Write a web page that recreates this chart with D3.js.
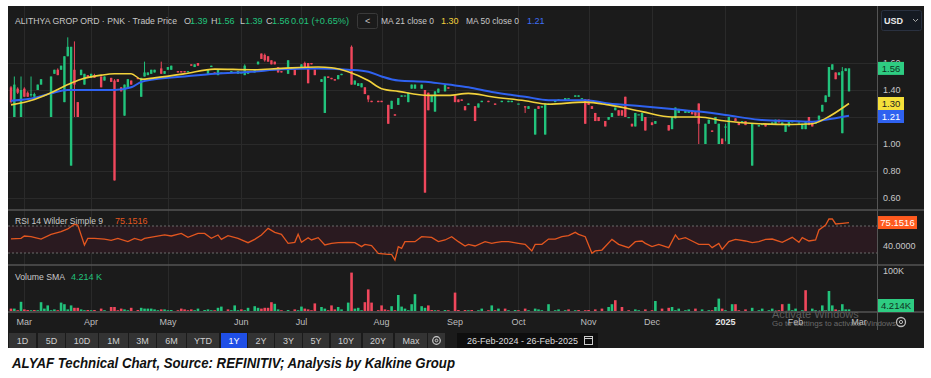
<!DOCTYPE html>
<html>
<head>
<meta charset="utf-8">
<script src="https://cdn.jsdelivr.net/npm/d3@7"></script>
<style>
body { margin: 0; background: #fff; }
svg { display: block; }
text { font-family: "Liberation Sans", Arial, sans-serif; }
</style>
</head>
<body>
<svg id="chart" width="931" height="378"></svg>
<script>
// ---- data ----
// candles: [trading day, open, high, low, close]
var candles = [
 [0,1.42,1.43,1.30,1.31],[1,1.20,1.50,1.20,1.44],[2,1.41,1.42,1.37,1.38],[3,1.20,1.50,1.20,1.40],
 [4,1.41,1.42,1.35,1.35],[5,1.38,1.39,1.35,1.35],[6,1.36,1.50,1.35,1.37],[7,1.35,1.38,1.35,1.37],
 [8,1.40,1.44,1.40,1.44],[9,1.44,1.48,1.44,1.48],[12,1.20,1.50,1.20,1.50],[13,1.52,1.55,1.52,1.55],
 [14,1.55,1.56,1.51,1.51],[15,1.55,1.58,1.55,1.58],[16,1.31,1.65,1.31,1.65],[17,1.65,1.79,1.65,1.72],
 [18,0.84,1.72,0.84,1.72],[19,1.55,1.76,1.20,1.44],[20,1.31,1.31,1.20,1.20],[21,1.51,1.55,1.51,1.55],
 [22,1.44,1.52,1.44,1.52],[23,1.51,1.51,1.49,1.49],[24,1.49,1.52,1.49,1.52],[25,1.51,1.52,1.49,1.49],
 [27,1.50,1.50,1.42,1.42],[28,1.47,1.50,1.47,1.50],[30,1.49,1.49,1.46,1.46],[31,1.47,1.48,0.73,0.73],
 [32,1.48,1.48,1.46,1.46],[33,1.42,1.42,1.39,1.39],[34,1.21,1.44,1.21,1.44],[35,1.41,1.48,1.41,1.48],
 [36,1.47,1.47,1.44,1.44],[38,1.49,1.49,1.48,1.48],[39,1.35,1.49,1.35,1.49],[40,1.50,1.61,1.50,1.53],
 [41,1.51,1.53,1.51,1.53],[42,1.52,1.55,1.52,1.55],[43,1.53,1.55,1.53,1.55],[45,1.56,1.61,1.52,1.52],
 [46,1.52,1.54,1.52,1.54],[47,1.55,1.57,1.55,1.57],[48,1.55,1.58,1.55,1.58],[50,1.54,1.54,1.53,1.53],
 [51,1.54,1.54,1.53,1.53],[52,1.54,1.54,1.53,1.53],[53,1.54,1.54,1.54,1.54],[54,1.59,1.59,1.58,1.58],
 [55,1.57,1.59,1.57,1.59],[56,1.60,1.60,1.58,1.58],[59,1.52,1.55,1.52,1.55],[60,1.57,1.58,1.57,1.58],
 [61,1.53,1.53,1.52,1.52],[62,1.51,1.55,1.51,1.55],[63,1.53,1.53,1.53,1.53],[65,1.53,1.53,1.52,1.52],
 [66,1.53,1.54,1.53,1.54],[68,1.52,1.54,1.52,1.54],[69,1.53,1.53,1.53,1.53],[70,1.51,1.59,1.51,1.58],
 [71,1.52,1.53,1.52,1.53],[73,1.53,1.55,1.53,1.55],[74,1.59,1.61,1.59,1.61],[75,1.67,1.67,1.63,1.63],
 [76,1.66,1.67,1.61,1.62],[77,1.65,1.65,1.61,1.61],[78,1.62,1.62,1.59,1.59],[79,1.61,1.61,1.59,1.59],
 [80,1.57,1.57,1.53,1.53],[81,1.54,1.54,1.53,1.53],[83,1.52,1.62,1.52,1.62],[85,1.55,1.55,1.51,1.51],
 [87,1.56,1.59,1.56,1.59],[88,1.60,1.61,1.57,1.57],[89,1.60,1.60,1.45,1.45],[90,1.60,1.60,1.59,1.59],
 [91,1.55,1.55,1.51,1.51],[93,1.46,1.48,1.46,1.48],[94,1.23,1.50,1.23,1.50],[95,1.50,1.50,1.49,1.49],
 [96,1.49,1.49,1.48,1.48],[97,1.48,1.48,1.47,1.47],[98,1.48,1.51,1.48,1.51],[99,1.51,1.52,1.51,1.52],
 [102,1.72,1.73,1.44,1.44],[103,1.44,1.47,1.44,1.47],[104,1.43,1.45,1.43,1.45],[105,1.42,1.45,1.42,1.45],
 [106,1.42,1.42,1.37,1.37],[107,1.36,1.36,1.31,1.33],[108,1.32,1.32,1.31,1.31],[110,1.32,1.32,1.31,1.31],
 [111,1.32,1.32,1.31,1.31],[113,1.29,1.29,1.15,1.15],[114,1.26,1.32,1.26,1.32],[115,1.22,1.22,1.21,1.21],
 [116,1.29,1.34,1.29,1.34],[117,1.35,1.36,1.35,1.36],[118,1.36,1.36,1.36,1.36],[119,1.31,1.38,1.31,1.38],
 [120,1.41,1.44,1.41,1.44],[121,1.41,1.44,1.41,1.44],[123,1.41,1.44,1.41,1.44],[124,1.40,1.40,0.64,0.64],
 [125,1.38,1.38,1.25,1.25],[126,1.31,1.36,1.31,1.36],[127,1.24,1.39,1.24,1.39],[128,1.38,1.41,1.38,1.41],
 [130,1.39,1.44,1.39,1.44],[131,1.42,1.42,1.41,1.41],[133,1.36,1.36,1.31,1.31],[134,1.33,1.33,1.31,1.31],
 [135,1.33,1.33,1.32,1.32],[136,1.28,1.28,1.25,1.25],[137,1.29,1.30,1.29,1.30],[139,1.28,1.28,1.17,1.17],
 [140,1.27,1.30,1.27,1.30],[141,1.31,1.32,1.31,1.32],[143,1.32,1.32,1.31,1.31],[145,1.30,1.30,1.29,1.29],
 [147,1.31,1.32,1.31,1.32],[149,1.31,1.32,1.31,1.32],[150,1.31,1.32,1.31,1.32],[152,1.30,1.30,1.30,1.30],
 [154,1.28,1.28,1.23,1.27],[155,1.26,1.28,1.26,1.28],[157,1.07,1.26,1.07,1.26],[158,1.28,1.28,1.26,1.26],
 [159,1.27,1.28,1.27,1.28],[160,1.07,1.30,1.07,1.30],[161,1.29,1.30,1.29,1.30],[163,1.31,1.32,1.31,1.32],
 [164,1.32,1.33,1.32,1.33],[166,1.32,1.34,1.32,1.34],[167,1.34,1.34,1.34,1.34],[169,1.35,1.36,1.35,1.36],
 [170,1.35,1.36,1.35,1.36],[171,1.34,1.34,1.34,1.34],[172,1.33,1.33,1.15,1.15],[173,1.33,1.33,1.29,1.29],
 [174,1.28,1.28,1.26,1.26],[175,1.23,1.23,1.17,1.17],[176,1.20,1.20,1.17,1.17],[178,1.17,1.17,1.13,1.13],
 [179,1.18,1.20,1.18,1.20],[180,1.20,1.23,1.20,1.23],[181,1.25,1.27,1.25,1.27],[182,1.25,1.25,1.21,1.21],
 [183,1.25,1.25,1.21,1.21],[184,1.35,1.35,1.20,1.20],[185,1.20,1.20,1.20,1.20],[186,1.15,1.15,1.13,1.13],
 [187,1.13,1.23,1.13,1.23],[188,1.22,1.22,1.22,1.22],[189,1.17,1.23,1.17,1.23],[190,1.20,1.20,1.10,1.10],
 [192,1.16,1.16,1.14,1.14],[193,1.15,1.17,1.15,1.17],[197,1.14,1.14,1.10,1.10],[198,1.11,1.20,1.11,1.20],
 [199,1.19,1.27,1.19,1.27],[200,1.23,1.26,1.23,1.26],[202,1.23,1.25,1.23,1.25],[203,1.23,1.25,1.23,1.25],
 [204,1.25,1.25,1.22,1.22],[205,1.24,1.24,1.21,1.21],[206,1.30,1.30,1.00,1.15],[208,1.00,1.15,1.00,1.15],
 [209,1.15,1.18,1.15,1.18],[210,1.10,1.10,1.09,1.09],[211,1.15,1.20,1.15,1.20],[212,1.00,1.15,1.00,1.15],
 [213,1.04,1.04,1.00,1.00],[214,1.13,1.15,1.02,1.13],[215,1.00,1.20,1.00,1.20],[217,1.19,1.19,1.17,1.17],
 [218,1.16,1.16,1.14,1.14],[219,1.16,1.17,1.16,1.17],[220,1.17,1.17,1.14,1.14],[222,0.84,1.15,0.84,1.15],
 [224,1.13,1.14,1.13,1.14],[225,1.14,1.15,1.14,1.15],[226,1.15,1.15,1.13,1.13],[227,1.14,1.15,1.14,1.15],
 [228,1.15,1.16,1.15,1.16],[229,1.15,1.18,1.15,1.18],[230,1.18,1.18,1.16,1.16],[231,1.14,1.16,1.14,1.16],
 [232,1.09,1.14,1.09,1.14],[233,1.13,1.17,1.13,1.17],[234,1.16,1.17,1.16,1.17],[236,1.16,1.16,1.16,1.16],
 [237,1.11,1.15,1.11,1.15],[238,1.11,1.17,1.11,1.17],[239,1.20,1.20,1.14,1.14],[240,1.16,1.16,1.13,1.13],
 [241,1.15,1.17,1.15,1.17],[242,1.18,1.21,1.18,1.21],[243,1.24,1.29,1.24,1.29],[244,1.31,1.36,1.31,1.36],
 [245,1.35,1.57,1.35,1.57],[246,1.55,1.59,1.55,1.59],[247,1.53,1.53,1.48,1.48],[248,1.51,1.53,1.51,1.53],
 [249,1.08,1.57,1.08,1.54],[250,1.54,1.56,1.54,1.56],[251,1.39,1.56,1.39,1.56]
];

// moving averages: [trading day, value]
var ma21 = [[0,1.29],[7,1.33],[12,1.38],[17,1.44],[21,1.48],[27,1.51],[31,1.52],[36,1.52],[39,1.48],
 [43,1.49],[52,1.52],[61,1.555],[72,1.55],[81,1.56],[92,1.57],[96,1.565],[101,1.535],[107,1.47],[111,1.41],
 [116,1.39],[125,1.36],[131,1.36],[137,1.375],[144,1.35],[154,1.32],[161,1.295],[172,1.31],[179,1.29],
 [189,1.24],[198,1.20],[206,1.20],[214,1.17],[224,1.15],[234,1.145],[240,1.15],[244,1.19],[251,1.30]];
var ma50 = [[0,1.32],[7,1.34],[12,1.375],[17,1.40],[21,1.40],[31,1.40],[36,1.42],[39,1.46],[43,1.48],
 [52,1.50],[61,1.52],[72,1.535],[81,1.553],[92,1.56],[101,1.55],[107,1.535],[111,1.50],[116,1.47],
 [125,1.46],[131,1.44],[137,1.42],[144,1.385],[154,1.35],[161,1.325],[172,1.325],[179,1.30],[189,1.28],
 [198,1.26],[206,1.24],[214,1.215],[224,1.18],[234,1.17],[240,1.165],[244,1.18],[251,1.21]];

// RSI 14: [trading day, value]
var rsi = [[0,51],[3,51.7],[4,55.2],[6,54.2],[9,50.7],[12,57.7],[15,61.6],[17,65.6],[19,72.5],[20,71.5],
 [22,41.9],[23,51.7],[25,51.7],[28,50.7],[30,48.8],[32,51.7],[35,46.8],[37,51.7],[39,48.8],[40,51.7],
 [43,54.2],[46,56.7],[48,55.2],[51,59.1],[53,53.2],[56,59.1],[58,59.1],[60,51.7],[62,56.7],[63,50.2],
 [65,55.7],[68,51.7],[71,45.3],[73,50.2],[75,56.7],[77,66.5],[79,60.6],[81,57.7],[83,44.3],[85,45.8],
 [86,57.7],[87,45.8],[89,52.7],[90,49.3],[92,52.7],[94,41.9],[96,44.3],[98,45.3],[101,45.8],[103,45.3],
 [105,39.4],[106,42.8],[108,40.9],[110,29.5],[113,28],[114,28],[115,19.6],[116,39.4],[117,36.9],[118,46.8],
 [121,46.8],[123,54.2],[126,53.2],[128,46.8],[130,49.3],[132,54.2],[134,46.8],[136,40.4],[137,42.8],
 [139,40.4],[142,46.8],[144,44.3],[145,45.3],[147,46.8],[149,46.8],[152,44.3],[154,42.8],[156,33],
 [157,42.8],[159,42.8],[161,50.7],[163,50.7],[165,54.2],[167,55.7],[169,60.6],[170,57.7],[172,54.2],
 [174,29.5],[175,33],[177,34.4],[180,50.2],[182,42.8],[185,37.9],[187,46.8],[189,47.8],[190,44.3],
 [192,39.4],[194,42.8],[197,37.9],[199,56.7],[200,50.2],[202,52.7],[204,47.8],[206,42.8],[209,42.8],
 [210,37.9],[212,44.3],[213,35.4],[215,46.8],[217,50.2],[220,47.8],[222,45.3],[224,46.8],[226,50.2],
 [228,50.7],[231,45.8],[234,53.2],[236,45.8],[237,52.7],[239,47.8],[241,49.3],[242,64.1],[244,71.5],
 [245,80.4],[246,80.4],[247,73],[249,74],[251,75.15]];

// volume in thousands: [trading day, volume K, 1 = up / 0 = down]
var volume = [[0,6,0],[1,6,1],[2,2,0],[3,23,1],[4,4,0],[5,2.5,0],[6,2,1],[7,2.5,0],[8,2,1],[9,22,1],[10,6,1],
 [11,14,1],[12,2,1],[13,4,1],[14,2,0],[15,21,1],[16,17,1],[17,4,1],[18,14,1],[19,8,0],[20,8,0],[21,4,1],
 [22,2,1],[23,2.5,0],[24,2,1],[25,2.5,0],[27,6,0],[28,2,1],[30,10,0],[31,10,0],[32,2,0],[33,6,0],[34,4,1],
 [35,2,1],[36,8,0],[38,2.5,0],[39,8,1],[40,6,1],[41,6,1],[42,6,1],[43,4,1],[44,2,1],[45,4,0],[46,4,1],
 [47,2,1],[48,2.5,1],[50,2,0],[51,6,0],[52,4,0],[53,2,0],[54,4,0],[55,2,1],[56,6,1],[58,2.5,1],[59,4,1],
 [60,2,1],[61,2,0],[62,8,1],[63,11,1],[65,4,0],[66,2,1],[67,14,1],[68,2,1],[69,4,0],[70,2,1],[71,8,1],
 [73,12,1],[74,8,1],[75,6,0],[76,8,0],[77,8,0],[78,22,0],[79,18,1],[80,4,1],[81,2,0],[83,2.5,1],[85,4,0],
 [86,2,1],[87,11,1],[88,6,0],[89,4,0],[90,2,0],[91,19,0],[93,10,1],[94,6,1],[95,2,0],[96,14,0],[97,4,0],
 [98,10,1],[99,4,1],[101,21,1],[102,96,0],[103,6,1],[104,8,1],[105,2,1],[106,22,0],[107,54,0],[108,21,0],
 [110,2,0],[111,14,0],[112,4,0],[113,2,0],[114,12,1],[115,2,0],[116,40,1],[117,11,1],[118,6,1],[119,2,1],
 [120,17,1],[121,42,1],[123,12,1],[124,8,1],[125,14,0],[126,2.5,0],[127,2,1],[128,2,0],[130,2.5,1],
 [131,2,0],[133,46,0],[134,2.5,0],[136,2.5,0],[137,2,1],[138,2.5,0],[140,2,1],[141,6,1],[143,2,0],
 [144,14,1],[145,2,0],[146,6,1],[148,6,0],[149,2,1],[151,2.5,1],[152,2,0],[154,6,0],[155,2,1],[157,6,1],
 [158,4,1],[159,2,1],[161,17,1],[163,2,1],[164,4,1],[166,2,1],[167,4,0],[169,2,1],[170,2.5,0],[172,2,0],
 [173,2.5,0],[175,4,0],[177,6,0],[179,10,1],[180,17,1],[181,27,0],[183,10,0],[185,2,0],[187,4,1],
 [188,2,1],[190,4,0],[192,2,0],[193,25,1],[195,6,0],[197,8,0],[198,10,1],[199,2,1],[200,6,1],[202,2,1],
 [203,4,1],[205,6,0],[207,4,1],[209,2,1],[210,2,0],[211,10,1],[212,31,1],[213,6,0],[214,2,1],[216,17,1],
 [217,17,0],[218,2,0],[220,4,0],[222,8,1],[224,2,1],[225,6,1],[227,2,1],[228,6,1],[230,2,0],[231,17,0],
 [233,18,1],[234,2,1],[235,6,1],[237,2,1],[238,52,0],[240,6,1],[241,2,1],[243,14,1],[244,2,1],[245,50,1],
 [246,14,1],[247,4,0],[248,2,1],[249,17,1],[250,4,1],[251,4,1]];

var monthLabels = ["Mar","Apr","May","Jun","Jul","Aug","Sep","Oct","Nov","Dec","2025","Feb","Mar"];
var monthStartDay = [4,24,47,69,87,111,133,152,173,192,214,235,254];
var priceTicks = [0.60,0.80,1.00,1.20,1.40,1.60];
var rangeButtons = ["1D","5D","10D","1M","3M","6M","YTD","1Y","2Y","3Y","5Y","10Y","20Y","Max"];

var lastClose = 1.56, lastMa21 = 1.30, lastMa50 = 1.21, lastRsi = "75.1516", lastVolSma = "4.214K";

// ---- colours ----
var bg = "#1b1b1b", grid = "#2a2a2a", sep = "#555", txt = "#c8c8c8";
var up = "#22c37c", down = "#f0475c", yellow = "#f2d23c", blue = "#2f62f0", rsiCol = "#e3561f";

var svg = d3.select("#chart");

// frame
svg.append("rect").attr("x", 8).attr("y", 6).attr("width", 916).attr("height", 342).attr("fill", bg);

// scales
var x = d3.scaleLinear().domain([0, 251]).range([11, 849]);
var y = d3.scaleLinear().domain([0.6, 1.6]).range([198, 63]);
var yR = d3.scaleLinear().domain([30, 70]).range([253, 226]);
var yV = d3.scaleLinear().domain([0, 100]).range([311, 271]);

// vertical grid (month starts)
svg.append("g").selectAll("line").data(monthStartDay.slice(0, -1)).join("line")
    .attr("x1", d => Math.round(x(d)) + 0.5).attr("x2", d => Math.round(x(d)) + 0.5)
    .attr("y1", 6).attr("y2", 312).attr("stroke", grid);

// horizontal grid (price)
svg.append("g").selectAll("line").data(priceTicks).join("line")
    .attr("x1", 8).attr("x2", 877).attr("y1", d => Math.round(y(d)) + 0.5).attr("y2", d => Math.round(y(d)) + 0.5)
    .attr("stroke", grid);

// RSI band
svg.append("rect").attr("x", 8).attr("width", 869).attr("y", yR(70)).attr("height", yR(30) - yR(70))
    .attr("fill", "#2a1a20");
[70, 30].forEach(function (v) {
    svg.append("line").attr("x1", 8).attr("x2", 877).attr("y1", yR(v)).attr("y2", yR(v))
        .attr("stroke", "#6a6a6a").attr("stroke-dasharray", "2,2");
});

// candles
var cg = svg.append("g");
cg.selectAll("line").data(candles).join("line")
    .attr("x1", d => x(d[0])).attr("x2", d => x(d[0]))
    .attr("y1", d => y(d[2])).attr("y2", d => y(d[3]))
    .attr("stroke", d => d[4] >= d[1] ? up : down).attr("stroke-width", 1);
cg.selectAll("rect").data(candles).join("rect")
    .attr("x", d => x(d[0]) - 1.2).attr("width", 2.4)
    .attr("y", d => y(Math.max(d[1], d[4])))
    .attr("height", d => Math.max(1.2, Math.abs(y(d[1]) - y(d[4]))))
    .attr("fill", d => d[4] >= d[1] ? up : down);

// moving averages
var maLine = d3.line().x(d => x(d[0])).y(d => y(d[1])).curve(d3.curveMonotoneX);
svg.append("path").datum(ma50).attr("d", maLine).attr("fill", "none").attr("stroke", blue).attr("stroke-width", 2);
svg.append("path").datum(ma21).attr("d", maLine).attr("fill", "none").attr("stroke", yellow).attr("stroke-width", 1.6);

// RSI line
svg.append("path").datum(rsi)
    .attr("d", d3.line().x(d => x(d[0])).y(d => yR(d[1])))
    .attr("fill", "none").attr("stroke", rsiCol).attr("stroke-width", 1.3);

// volume
svg.append("g").selectAll("rect").data(volume).join("rect")
    .attr("x", d => x(d[0]) - 1.3).attr("width", 2.6)
    .attr("y", d => yV(d[1])).attr("height", d => yV(0) - yV(d[1]))
    .attr("fill", d => d[2] ? up : down);

// panel separators
[210, 265, 312].forEach(function (py) {
    svg.append("line").attr("x1", 8).attr("x2", 924).attr("y1", py).attr("y2", py)
        .attr("stroke", sep).attr("stroke-width", 1.5);
});
svg.append("line").attr("x1", 877.5).attr("x2", 877.5).attr("y1", 6).attr("y2", 330).attr("stroke", sep);

// price axis labels
svg.append("g").selectAll("text").data(priceTicks).join("text")
    .attr("x", 883).attr("y", d => y(d)).attr("dy", "0.35em")
    .attr("fill", txt).attr("font-size", 9).text(d => d.toFixed(2));

function tag(cy, label, fill, color, w) {
    svg.append("rect").attr("x", 878).attr("y", cy - 6.5).attr("width", w).attr("height", 13).attr("fill", fill);
    svg.append("text").attr("x", 878 + w / 2).attr("y", cy).attr("dy", "0.35em").attr("text-anchor", "middle")
        .attr("fill", color).attr("font-size", 9.5).text(label);
}
tag(y(lastClose), lastClose.toFixed(2), "#2ecc82", "#10331f", 26);
var y21 = y(lastMa21);
var y50 = Math.max(y(lastMa50), y21 + 13);
tag(y21, lastMa21.toFixed(2), "#f5e03a", "#222", 26);
tag(y50, lastMa50.toFixed(2), "#2f62f0", "#fff", 26);

// RSI axis
svg.append("text").attr("x", 883).attr("y", yR(40)).attr("dy", "0.35em").attr("fill", txt).attr("font-size", 9).text("40.0000");
tag(yR(75.1516), lastRsi, "#ff5a1e", "#fff", 39);

// volume axis
svg.append("text").attr("x", 883).attr("y", yV(100)).attr("dy", "0.35em").attr("fill", txt).attr("font-size", 9).text("100K");
tag(305.5, lastVolSma, "#2ecc82", "#10331f", 36);

// header
function seg(xp, yp, s, c, len) {
    var t = svg.append("text").attr("x", xp).attr("y", yp).attr("dy", "0.35em").attr("font-size", 9).attr("fill", c).text(s);
    if (len) t.attr("textLength", len).attr("lengthAdjust", "spacingAndGlyphs");
}
seg(15, 21, "ALITHYA GROP ORD · PNK · Trade Price", txt, 162);
seg(184, 21, "O", txt); seg(190, 21, "1.39", up);
seg(211, 21, "H", txt); seg(217, 21, "1.56", up);
seg(240, 21, "L", txt); seg(245, 21, "1.39", up);
seg(266, 21, "C", txt); seg(272, 21, "1.56", up);
seg(291, 21, "0.01 (+0.65%)", up, 58);
svg.append("rect").attr("x", 357.5).attr("y", 13.5).attr("width", 20).attr("height", 15).attr("rx", 2)
    .attr("fill", "#1b1b1b").attr("stroke", "#3a3a3a");
seg(365, 21, "<", txt);
seg(381, 21, "MA 21 close 0", txt, 53); seg(441, 21, lastMa21.toFixed(2), yellow);
seg(466, 21, "MA 50 close 0", txt, 53); seg(527, 21, lastMa50.toFixed(2), "#3f6ff5");
svg.append("rect").attr("x", 881.5).attr("y", 10.5).attr("width", 40).attr("height", 20).attr("rx", 2)
    .attr("fill", "#151a22").attr("stroke", "#2a3140");
svg.append("text").attr("x", 884).attr("y", 20.5).attr("dy", "0.35em").attr("font-size", 9).attr("font-weight", "bold").attr("fill", "#e8e8e8").text("USD");
svg.append("path").attr("d", "M913,19 l2.5,2.5 l2.5,-2.5").attr("fill", "none").attr("stroke", "#aaa");

// panel titles
seg(15, 221, "RSI 14 Wilder Simple 9", txt, 88);
seg(115, 221, lastRsi, rsiCol);
seg(15, 277, "Volume SMA", txt, 50);
seg(71, 277, "4.214 K", up);

// watermark
svg.append("text").attr("x", 772).attr("y", 314).attr("dy", "0.35em").attr("font-size", 11).attr("fill", "#5c5c5c").text("Activate Windows");
svg.append("text").attr("x", 772).attr("y", 323.5).attr("dy", "0.35em").attr("font-size", 8).attr("fill", "#6a6a6a").text("Go to Settings to activate Windows.");

// x axis labels
svg.append("g").selectAll("text").data(monthLabels).join("text")
    .attr("x", (d, i) => x(monthStartDay[i])).attr("y", 322).attr("dy", "0.35em")
    .attr("text-anchor", "middle").attr("font-size", 9)
    .attr("font-weight", d => d === "2025" ? "bold" : "normal")
    .attr("fill", d => d === "2025" ? "#e6e6e6" : "#bdbdbd").text(d => d);

// settings gear
svg.append("circle").attr("cx", 901).attr("cy", 322).attr("r", 4.5).attr("fill", "none").attr("stroke", "#bbb").attr("stroke-width", 1.3);
svg.append("circle").attr("cx", 901).attr("cy", 322).attr("r", 1.6).attr("fill", "none").attr("stroke", "#bbb");

// range buttons
var bx = [9, 38, 66, 99, 129, 157, 187, 221, 248, 275, 303, 331, 363, 395];
var bw = [27, 27, 32, 29, 27, 29, 32, 26, 26, 27, 26, 30, 30, 32];
var bar = svg.append("g");
rangeButtons.forEach(function (b, i) {
    bar.append("rect").attr("x", bx[i]).attr("y", 333).attr("width", bw[i]).attr("height", 15)
        .attr("fill", b === "1Y" ? "#1f4fe6" : "#333");
    bar.append("text").attr("x", bx[i] + bw[i] / 2).attr("y", 340.5).attr("dy", "0.35em").attr("text-anchor", "middle")
        .attr("font-size", 9).attr("fill", b === "1Y" ? "#fff" : "#cfcfcf").text(b);
});
bar.append("rect").attr("x", 428).attr("y", 333).attr("width", 17).attr("height", 15).attr("fill", "#333");
bar.append("circle").attr("cx", 436.5).attr("cy", 340.5).attr("r", 3.8).attr("fill", "none").attr("stroke", "#ccc").attr("stroke-width", 1.2);
bar.append("circle").attr("cx", 436.5).attr("cy", 340.5).attr("r", 1.3).attr("fill", "none").attr("stroke", "#ccc");
bar.append("rect").attr("x", 457).attr("y", 333).attr("width", 141).attr("height", 15).attr("fill", "#0e0e0e");
bar.append("text").attr("x", 467).attr("y", 340.5).attr("dy", "0.35em").attr("font-size", 9).attr("fill", "#dcdcdc")
    .text("26-Feb-2024  -  26-Feb-2025");
bar.append("rect").attr("x", 584.5).attr("y", 336.5).attr("width", 8).attr("height", 8).attr("fill", "none").attr("stroke", "#ccc");
bar.append("line").attr("x1", 584.5).attr("x2", 592.5).attr("y1", 338.5).attr("y2", 338.5).attr("stroke", "#ccc");

// caption
svg.append("text").attr("x", 12).attr("y", 368).attr("font-size", 14).attr("font-weight", "bold")
    .attr("font-style", "italic").attr("fill", "#111").attr("textLength", 443).attr("lengthAdjust", "spacingAndGlyphs")
    .text("ALYAF Technical Chart, Source: REFINITIV; Analysis by Kalkine Group");
</script>
</body>
</html>
